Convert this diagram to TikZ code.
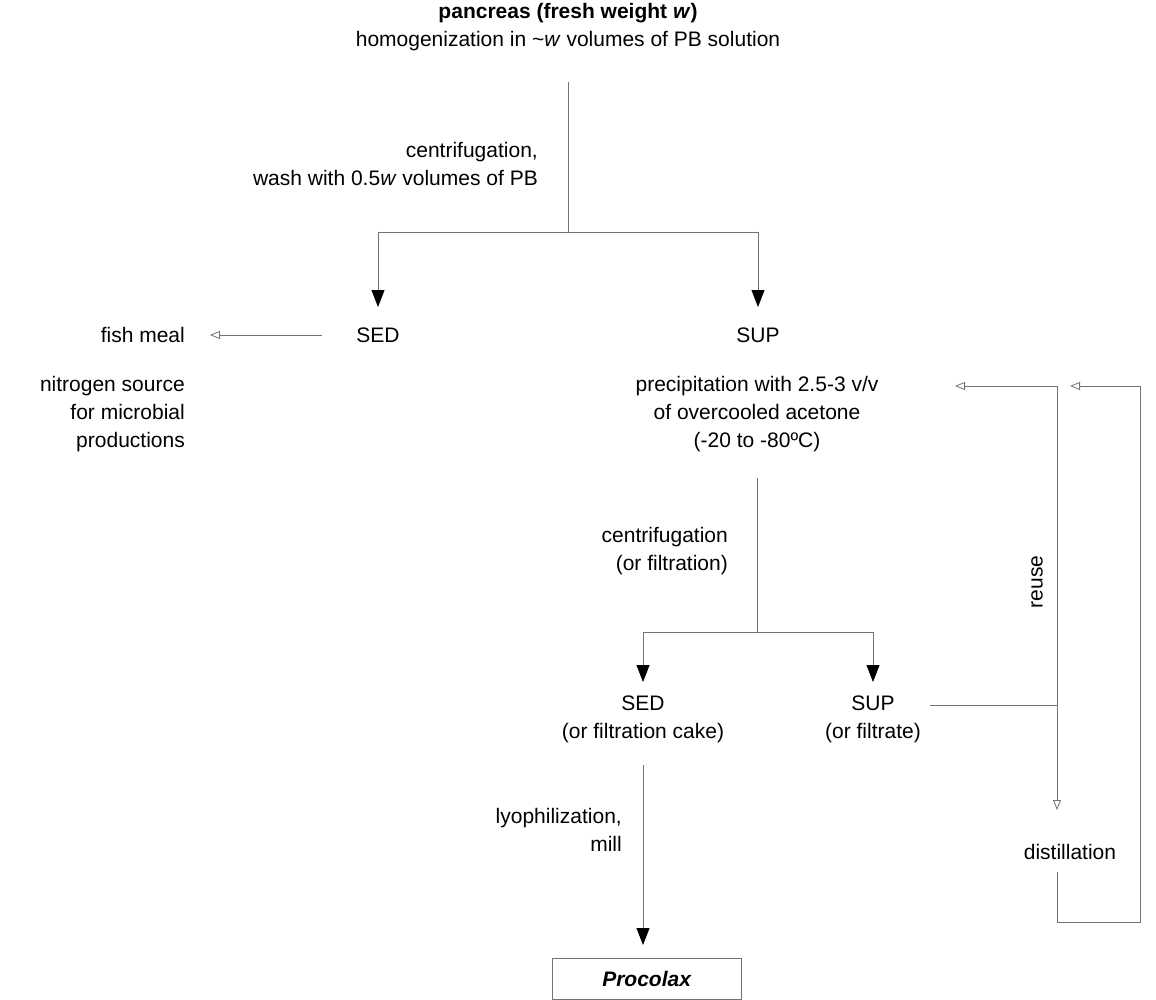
\documentclass[tikz,border=0pt]{standalone}
\usepackage{fontspec}
\setmainfont{Liberation Sans}
\usetikzlibrary{arrows.meta}
\begin{document}
\begin{tikzpicture}[x=1pt,y=-1pt,
  txt/.style={font=\fontsize{21}{28}\selectfont, inner sep=0pt},
  ln/.style={draw=black!55, line width=0.8pt},
  big/.style={ln, -{Triangle[length=17pt,width=13pt,fill=black,color=black]}},
  open/.style={ln, -{Triangle[open,length=10pt,width=8pt]}}]
\useasboundingbox (0,0) rectangle (1156,1000);
\node[txt,align=center] (top) at (568,27) {\textbf{pancreas (fresh weight \textit{w})}\\homogenization in \textasciitilde\textit{w} volumes of PB solution};
\coordinate (t1) at (568,82);
\coordinate (s1) at (568,232);
\draw[ln] (t1) -- (s1);
\node[txt,align=right,anchor=east] at (538,164) {centrifugation,\\wash with 0.5\textit{w} volumes of PB};
\coordinate (sl) at (378,232);
\coordinate (sr) at (758,232);
\draw[ln] (sl) -- (sr);
\node[txt] (sed) at (378,335) {SED};
\node[txt] (sup) at (758,335) {SUP};
\draw[big] (sl) -- (378,307);
\draw[big] (sr) -- (758,307);
\node[txt,anchor=east] (fish) at (185,335) {fish meal};
\draw[open] (322,335) -- (210,335);
\node[txt,align=right,anchor=north east] (nit) at (185,376) {nitrogen source\\for microbial\\productions};
\node[txt,align=center,anchor=north] (prec) at (757,376) {precipitation with 2.5-3 v/v\\of overcooled acetone\\(-20 to -80ºC)};
\coordinate (p1) at (757,478);
\coordinate (p2) at (757,632);
\draw[ln] (p1) -- (p2);
\node[txt,align=right,anchor=east] at (728,551) {centrifugation\\(or filtration)};
\coordinate (ql) at (643,632);
\coordinate (qr) at (873,632);
\draw[ln] (ql) -- (qr);
\draw[big] (ql) -- (643,682);
\draw[big] (qr) -- (873,682);
\node[txt,align=center] (sed2) at (643,719) {SED\\(or filtration cake)};
\node[txt,align=center] (sup2) at (873,719) {SUP\\(or filtrate)};
\coordinate (j) at (1057,705);
\draw[ln] (930,705) -- (j);
\draw[open] (1057,386) -- (1057,810);
\draw[open] (1057,386) -- (955,386);
\node[txt,rotate=90] at (1037,582) {reuse};
\node[txt] (dist) at (1070,852) {distillation};
\draw[ln] (1057,872) -- (1057,922) -- (1140,922) -- (1140,386);
\draw[open] (1140,386) -- (1070,386);
\coordinate (l1) at (643,765);
\node[txt,align=right,anchor=east] at (622,830) {lyophilization,\\mill};
\node[txt,draw=black!55,line width=0.8pt,minimum width=189pt,minimum height=41pt] (pro) at (647,979) {\textbf{\textit{Procolax}}};
\draw[big] (l1) -- (643,945);
\end{tikzpicture}
\end{document}
